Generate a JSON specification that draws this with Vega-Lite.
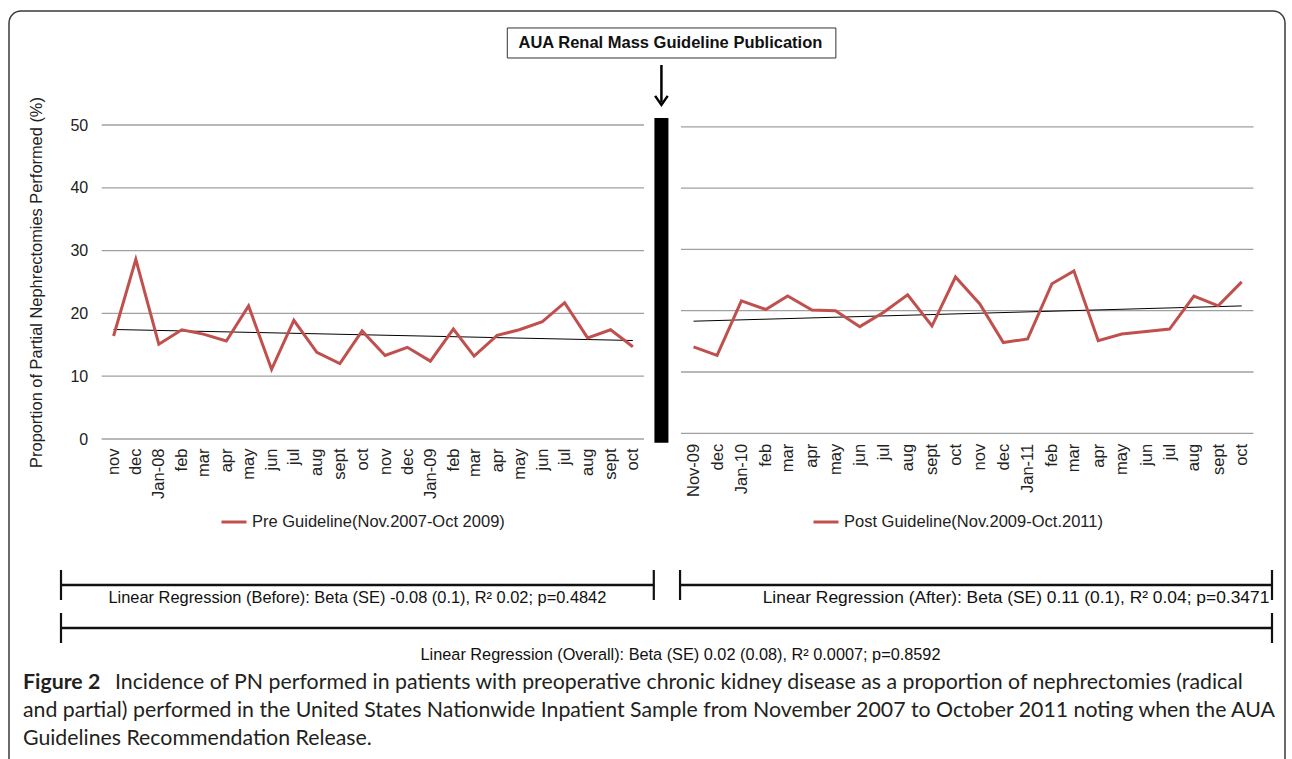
{
  "$schema": "https://vega.github.io/schema/vega-lite/v6.json",
  "width": 1276,
  "height": 760,
  "autosize": {"type": "none"},
  "padding": {"left": 9, "top": 11, "right": 7, "bottom": 0},
  "background": "white",
  "config": {
    "view": {"stroke": "#3a3a3a", "strokeWidth": 1.5, "cornerRadius": 12},
    "font": "Liberation Sans",
    "axis": {"grid": false, "domain": false, "ticks": false, "labelFont": "Liberation Sans", "labelFontSize": 16, "labelColor": "#222222", "titleFont": "Liberation Sans", "titleFontSize": 16.4, "titleFontWeight": "normal", "titleColor": "#222222"},
    "legend": {"padding": 0, "labelFont": "Liberation Sans", "labelFontSize": 16.5, "labelColor": "#222222", "labelLimit": 0, "symbolSize": 625, "symbolStrokeWidth": 3}
  },
  "datasets": {
    "grid": [{"value": 0}, {"value": 10}, {"value": 20}, {"value": 30}, {"value": 40}, {"value": 50}],
    "pre": [
      {"month": "2007-11-01", "pn": 16.4}, {"month": "2007-12-01", "pn": 28.6}, {"month": "2008-01-01", "pn": 15.1},
      {"month": "2008-02-01", "pn": 17.4}, {"month": "2008-03-01", "pn": 16.7}, {"month": "2008-04-01", "pn": 15.6},
      {"month": "2008-05-01", "pn": 21.2}, {"month": "2008-06-01", "pn": 11.1}, {"month": "2008-07-01", "pn": 18.9},
      {"month": "2008-08-01", "pn": 13.8}, {"month": "2008-09-01", "pn": 12.0}, {"month": "2008-10-01", "pn": 17.2},
      {"month": "2008-11-01", "pn": 13.3}, {"month": "2008-12-01", "pn": 14.6}, {"month": "2009-01-01", "pn": 12.4},
      {"month": "2009-02-01", "pn": 17.5}, {"month": "2009-03-01", "pn": 13.2}, {"month": "2009-04-01", "pn": 16.5},
      {"month": "2009-05-01", "pn": 17.4}, {"month": "2009-06-01", "pn": 18.7}, {"month": "2009-07-01", "pn": 21.7},
      {"month": "2009-08-01", "pn": 16.1}, {"month": "2009-09-01", "pn": 17.4}, {"month": "2009-10-01", "pn": 14.7}
    ],
    "post": [
      {"month": "2009-11-01", "pn": 14.1}, {"month": "2009-12-01", "pn": 12.7}, {"month": "2010-01-01", "pn": 21.6},
      {"month": "2010-02-01", "pn": 20.2}, {"month": "2010-03-01", "pn": 22.4}, {"month": "2010-04-01", "pn": 20.1},
      {"month": "2010-05-01", "pn": 20.0}, {"month": "2010-06-01", "pn": 17.4}, {"month": "2010-07-01", "pn": 19.7},
      {"month": "2010-08-01", "pn": 22.6}, {"month": "2010-09-01", "pn": 17.5}, {"month": "2010-10-01", "pn": 25.5},
      {"month": "2010-11-01", "pn": 21.1}, {"month": "2010-12-01", "pn": 14.8}, {"month": "2011-01-01", "pn": 15.4},
      {"month": "2011-02-01", "pn": 24.4}, {"month": "2011-03-01", "pn": 26.5}, {"month": "2011-04-01", "pn": 15.1},
      {"month": "2011-05-01", "pn": 16.2}, {"month": "2011-06-01", "pn": 16.6}, {"month": "2011-07-01", "pn": 17.0},
      {"month": "2011-08-01", "pn": 22.4}, {"month": "2011-09-01", "pn": 20.8}, {"month": "2011-10-01", "pn": 24.7}
    ],
    "event": [{"event": "AUA Renal Mass Guideline Publication", "date": "2009-10-10"}],
    "brackets": [
      {"period": "Before", "level": "period", "start": "2007-11-01", "end": "2009-10-01", "label": "Linear Regression (Before): Beta (SE) -0.08 (0.1), R² 0.02; p=0.4842"},
      {"period": "After", "level": "period", "start": "2009-11-01", "end": "2011-10-01", "label": "Linear Regression (After): Beta (SE) 0.11 (0.1), R² 0.04; p=0.3471"},
      {"period": "Overall", "level": "overall", "start": "2007-11-01", "end": "2011-10-01", "label": "Linear Regression (Overall): Beta (SE) 0.02 (0.08), R² 0.0007; p=0.8592"}
    ],
    "caption": [
      {"line": 1, "part": "label", "text": "Figure 2"},
      {"line": 1, "part": "first", "text": "Incidence of PN performed in patients with preoperative chronic kidney disease as a proportion of nephrectomies (radical"},
      {"line": 2, "part": "rest", "text": "and partial) performed in the United States Nationwide Inpatient Sample from November 2007 to October 2011 noting when the AUA"},
      {"line": 3, "part": "rest", "text": "Guidelines Recommendation Release."}
    ]
  },
  "layer": [
    {
      "layer": [
        {
          "data": {"name": "grid"},
          "mark": {"type": "rule", "color": "#a0a0a0", "strokeWidth": 1.3},
          "encoding": {
            "x": {"datum": {"year": 2007, "month": 10, "date": 16, "utc": true}, "type": "temporal"},
            "x2": {"datum": {"year": 2009, "month": 10, "date": 16, "utc": true}},
            "y": {"field": "value", "type": "quantitative"}
          }
        },
        {
          "data": {"name": "pre"},
          "transform": [{"regression": "pn", "on": "month"}],
          "mark": {"type": "line", "color": "black", "strokeWidth": 1},
          "encoding": {
            "x": {"field": "month", "type": "temporal"},
            "y": {"field": "pn", "type": "quantitative"}
          }
        },
        {
          "data": {"name": "pre"},
          "mark": {"type": "line", "color": "#c0504d", "strokeWidth": 3},
          "encoding": {
            "x": {
              "field": "month", "type": "temporal",
              "scale": {"type": "utc", "domain": [{"year": 2007, "month": 10, "date": 16, "utc": true}, {"year": 2009, "month": 10, "date": 16, "utc": true}], "range": [92.7, 635], "nice": false},
              "axis": {"orient": "bottom", "offset": -332, "tickCount": {"interval": "month", "step": 1}, "labelAngle": 270, "labelPadding": 9, "labelFontSize": 16.5, "labelOverlap": false, "labelFlush": false, "labelBound": false, "title": null,
                "labelExpr": "utcmonth(datum.value) == 0 ? utcFormat(datum.value, '%b-%y') : (utcmonth(datum.value) == 8 ? 'sept' : lower(utcFormat(datum.value, '%b')))"}
            },
            "y": {
              "field": "pn", "type": "quantitative",
              "scale": {"domain": [0, 50], "range": [428, 114], "nice": false, "zero": false},
              "axis": {"orient": "left", "offset": -92.7, "values": [0, 10, 20, 30, 40, 50], "labelPadding": 14, "title": "Proportion of Partial Nephrectomies Performed (%)", "titlePadding": 25}
            },
            "color": {"datum": "Pre Guideline(Nov.2007-Oct 2009)", "type": "nominal", "scale": {"range": ["#c0504d"]}, "legend": {"title": null, "orient": "none", "legendX": 211, "legendY": 497}}
          }
        }
      ]
    },
    {
      "layer": [
        {
          "data": {"name": "grid"},
          "mark": {"type": "rule", "color": "#a0a0a0", "strokeWidth": 1.3},
          "encoding": {
            "x": {"datum": {"year": 2009, "month": 10, "date": 16, "utc": true}, "type": "temporal"},
            "x2": {"datum": {"year": 2011, "month": 10, "date": 16, "utc": true}},
            "y": {"field": "value", "type": "quantitative", "axis": null}
          }
        },
        {
          "data": {"name": "post"},
          "transform": [{"regression": "pn", "on": "month"}],
          "mark": {"type": "line", "color": "black", "strokeWidth": 1},
          "encoding": {
            "x": {"field": "month", "type": "temporal"},
            "y": {"field": "pn", "type": "quantitative", "axis": null}
          }
        },
        {
          "data": {"name": "post"},
          "mark": {"type": "line", "color": "#c0504d", "strokeWidth": 3},
          "encoding": {
            "x": {
              "field": "month", "type": "temporal",
              "scale": {"type": "utc", "domain": [{"year": 2009, "month": 10, "date": 16, "utc": true}, {"year": 2011, "month": 10, "date": 16, "utc": true}], "range": [672, 1244.5], "nice": false},
              "axis": {"orient": "bottom", "offset": -337.7, "tickCount": {"interval": "month", "step": 1}, "labelAngle": 270, "labelPadding": 10, "labelFontSize": 16.5, "labelOverlap": false, "labelFlush": false, "labelBound": false, "title": null,
                "labelExpr": "utcFormat(datum.value, '%Y-%m') == '2009-11' ? 'Nov-09' : (utcmonth(datum.value) == 0 ? utcFormat(datum.value, '%b-%y') : (utcmonth(datum.value) == 8 ? 'sept' : lower(utcFormat(datum.value, '%b'))))"}
            },
            "y": {
              "field": "pn", "type": "quantitative",
              "scale": {"domain": [0, 50], "range": [422.3, 115.8], "nice": false, "zero": false},
              "axis": null
            },
            "color": {"datum": "Post Guideline(Nov.2009-Oct.2011)", "type": "nominal", "scale": {"range": ["#c0504d"]}, "legend": {"title": null, "orient": "none", "legendX": 803, "legendY": 497}}
          }
        }
      ]
    },
    {
      "layer": [
        {
          "data": {"name": "event"},
          "layer": [
            {
              "mark": {"type": "rect", "fill": "white", "stroke": "#333333", "strokeWidth": 1},
              "encoding": {
                "x": {"datum": {"year": 2009, "month": 4, "date": 11, "utc": true}, "type": "temporal",
                  "scale": {"type": "utc", "domain": [{"year": 2007, "month": 11, "date": 1, "utc": true}, {"year": 2011, "month": 10, "date": 1, "utc": true}], "range": [52, 1263], "nice": false},
                  "axis": null},
                "x2": {"datum": {"year": 2010, "month": 5, "date": 4, "utc": true}},
                "y": {"datum": 65.45, "type": "quantitative", "scale": {"domain": [0, 50], "range": [428, 114], "nice": false, "zero": false}, "axis": null},
                "y2": {"datum": 60.67}
              }
            },
            {
              "mark": {"type": "text", "fontWeight": "bold", "fontSize": 16.5, "dx": 9, "align": "center", "baseline": "middle", "color": "#111111"},
              "encoding": {
                "x": {"field": "date", "type": "temporal", "axis": null},
                "y": {"datum": 63.06, "type": "quantitative", "axis": null},
                "text": {"field": "event"}
              }
            },
            {
              "mark": {"type": "rule", "color": "black", "strokeWidth": 14, "strokeCap": "butt"},
              "encoding": {
                "x": {"field": "date", "type": "temporal", "axis": null},
                "y": {"datum": -0.6, "type": "quantitative", "axis": null},
                "y2": {"datum": 51.1}
              }
            },
            {
              "mark": {"type": "rule", "color": "black", "strokeWidth": 2.5},
              "encoding": {
                "x": {"field": "date", "type": "temporal", "axis": null},
                "y": {"datum": 59.55, "type": "quantitative", "axis": null},
                "y2": {"datum": 53.6}
              }
            },
            {
              "mark": {"type": "point", "shape": "M-0.7,-1L0,0L0.7,-1", "filled": false, "color": "black", "strokeWidth": 2.5, "size": 324, "opacity": 1},
              "encoding": {
                "x": {"field": "date", "type": "temporal", "axis": null},
                "y": {"datum": 53.2, "type": "quantitative", "axis": null}
              }
            }
          ]
        },
        {
          "data": {"name": "brackets"},
          "layer": [
            {
              "mark": {"type": "rule", "color": "#111111", "strokeWidth": 2.5},
              "encoding": {
                "x": {"field": "start", "type": "temporal", "axis": null},
                "x2": {"field": "end"},
                "y": {"field": "level", "type": "ordinal", "scale": {"type": "point", "domain": ["period", "overall"], "range": [574, 617], "padding": 0}, "axis": null}
              }
            },
            {
              "mark": {"type": "tick", "orient": "vertical", "size": 30, "thickness": 2.2, "color": "#111111", "opacity": 1},
              "encoding": {
                "x": {"field": "start", "type": "temporal", "axis": null},
                "y": {"field": "level", "type": "ordinal", "axis": null}
              }
            },
            {
              "mark": {"type": "tick", "orient": "vertical", "size": 30, "thickness": 2.2, "color": "#111111", "opacity": 1},
              "encoding": {
                "x": {"field": "end", "type": "temporal", "axis": null},
                "y": {"field": "level", "type": "ordinal", "axis": null}
              }
            },
            {
              "transform": [{"filter": "datum.period == 'Before'"}, {"calculate": "(time(datum.start) + time(datum.end)) / 2", "as": "mid"}],
              "mark": {"type": "text", "fontSize": 16.4, "dy": 13, "align": "center", "baseline": "middle", "color": "#111111"},
              "encoding": {
                "x": {"field": "mid", "type": "temporal", "axis": null},
                "y": {"field": "level", "type": "ordinal", "axis": null},
                "text": {"field": "label"}
              }
            },
            {
              "transform": [{"filter": "datum.period == 'After'"}, {"calculate": "(time(datum.start) + time(datum.end)) / 2", "as": "mid"}],
              "mark": {"type": "text", "fontSize": 17.4, "dy": 13, "dx": 40, "align": "center", "baseline": "middle", "color": "#111111"},
              "encoding": {
                "x": {"field": "mid", "type": "temporal", "axis": null},
                "y": {"field": "level", "type": "ordinal", "axis": null},
                "text": {"field": "label"}
              }
            },
            {
              "transform": [{"filter": "datum.period == 'Overall'"}, {"calculate": "(time(datum.start) + time(datum.end)) / 2", "as": "mid"}],
              "mark": {"type": "text", "fontSize": 16.3, "dy": 27, "dx": 14, "align": "center", "baseline": "middle", "color": "#111111"},
              "encoding": {
                "x": {"field": "mid", "type": "temporal", "axis": null},
                "y": {"field": "level", "type": "ordinal", "axis": null},
                "text": {"field": "label"}
              }
            }
          ]
        }
      ],
      "resolve": {"scale": {"y": "independent"}}
    },
    {
      "data": {"name": "caption"},
      "layer": [
        {
          "transform": [{"filter": "datum.part == 'label'"}],
          "mark": {"type": "text", "align": "left", "baseline": "middle", "font": "Lato", "fontSize": 21.3, "fontWeight": "bold", "color": "#231f20"},
          "encoding": {
            "x": {"datum": 0, "type": "quantitative", "scale": {"domain": [0, 1], "range": [14, 1270]}, "axis": null},
            "y": {"field": "line", "type": "ordinal", "scale": {"type": "point", "domain": [1, 2, 3], "range": [672, 728], "padding": 0}, "axis": null},
            "text": {"field": "text"}
          }
        },
        {
          "transform": [{"filter": "datum.part == 'first'"}],
          "mark": {"type": "text", "align": "left", "baseline": "middle", "font": "Lato", "fontSize": 21.3, "dx": 92, "color": "#231f20"},
          "encoding": {
            "x": {"datum": 0, "type": "quantitative", "axis": null},
            "y": {"field": "line", "type": "ordinal", "axis": null},
            "text": {"field": "text"}
          }
        },
        {
          "transform": [{"filter": "datum.part == 'rest'"}],
          "mark": {"type": "text", "align": "left", "baseline": "middle", "font": "Lato", "fontSize": 21.3, "color": "#231f20"},
          "encoding": {
            "x": {"datum": 0, "type": "quantitative", "axis": null},
            "y": {"field": "line", "type": "ordinal", "axis": null},
            "text": {"field": "text"}
          }
        }
      ]
    }
  ],
  "resolve": {
    "scale": {"x": "independent", "y": "independent", "color": "independent"},
    "axis": {"x": "independent", "y": "independent"},
    "legend": {"color": "independent"}
  }
}
